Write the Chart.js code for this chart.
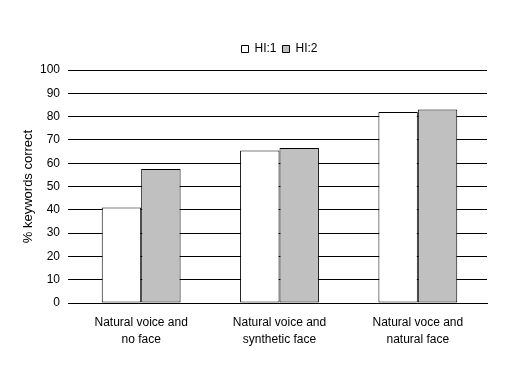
<!DOCTYPE html>
<html>
<head>
<meta charset="utf-8">
<script src="https://cdn.jsdelivr.net/npm/chart.js@4"></script>
<style>
  html, body { margin: 0; padding: 0; background: #fff; }
  #wrap { width: 514px; height: 366px; }
</style>
</head>
<body>
<div id="wrap"><canvas id="chart" width="514" height="366"></canvas></div>
<script>
// data
const categories = [
  ["Natural voice and", "no face"],
  ["Natural voice and", "synthetic face"],
  ["Natural voce and", "natural face"]
];
const hi1 = [41, 65.5, 82];
const hi2 = [57.5, 66.5, 83];
const yTicks = [0, 10, 20, 30, 40, 50, 60, 70, 80, 90, 100];

const family = "'Liberation Sans', Arial, sans-serif";

/* nudge the legend right and up, like the original */
const legendShift = {
  id: "legendShift",
  afterLayout(chart) {
    chart.legend.left += 36;
    chart.legend.right += 36;
    chart.legend.top -= 5;
    chart.legend.bottom -= 5;
  }
};

const ctx = document.getElementById("chart").getContext("2d");
new Chart(ctx, {
  type: "bar",
  data: {
    labels: categories,
    datasets: [
      {
        label: "HI:1",
        data: hi1,
        backgroundColor: "#ffffff",
        borderColor: "#000000",
        borderWidth: 1,
        borderSkipped: false
      },
      {
        label: "HI:2",
        data: hi2,
        backgroundColor: "#c0c0c0",
        borderColor: "#000000",
        borderWidth: 1,
        borderSkipped: false
      }
    ]
  },
  options: {
    responsive: false,
    animation: false,
    layout: { padding: { left: 0, right: 27, top: 42, bottom: 0 } },
    datasets: {
      bar: { categoryPercentage: 0.57, barPercentage: 1 }
    },
    plugins: {
      tooltip: { enabled: false },
      legend: {
        display: true,
        position: "top",
        labels: {
          font: { family: family, size: 12 },
          color: "#000",
          boxWidth: 7,
          boxHeight: 7,
          padding: 6
        }
      }
    },
    scales: {
      x: {
        grid: { display: false },
        border: { display: true, color: "#000", width: 1 },
        ticks: {
          font: { family: family, size: 12, lineHeight: 1.35 },
          color: "#000",
          maxRotation: 0,
          padding: 4
        },
        afterFit: scale => { scale.height = 63; }
      },
      y: {
        min: 0,
        max: 100,
        afterBuildTicks: scale => { scale.ticks = yTicks.map(v => ({ value: v })); },
        grid: { color: "#000", lineWidth: 1, tickLength: 4 },
        border: { display: false },
        ticks: { font: { family: family, size: 12 }, color: "#000", padding: 8 },
        title: {
          display: true,
          text: "% keywords correct",
          font: { family: family, size: 13 },
          color: "#000",
          padding: { top: 21, bottom: 0 }
        },
        afterFit: scale => { scale.width = 72; }
      }
    }
  },
  plugins: [legendShift]
});
</script>
</body>
</html>
